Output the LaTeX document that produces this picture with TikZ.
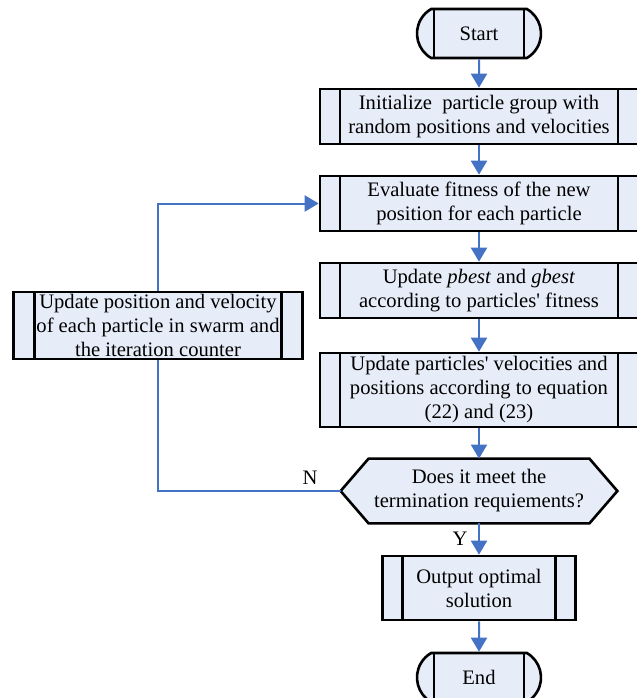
\documentclass[tikz,border=0pt]{standalone}
\usepackage{fontspec}
\setmainfont{Liberation Serif}
\usetikzlibrary{shapes.misc,arrows.meta}
\pgfdeclarelayer{bg}
\pgfsetlayers{bg,main}
\definecolor{boxfill}{RGB}{231,237,248}
\definecolor{flowblue}{RGB}{68,114,196}
\tikzset{
  procbox/.style={draw=black, line width=1.3pt, fill=boxfill, align=center, inner sep=0pt,
    path picture={\draw[line width=1.2pt]
      ([xshift=#1]path picture bounding box.north west) -- ([xshift=#1]path picture bounding box.south west)
      ([xshift=-#1]path picture bounding box.north east) -- ([xshift=-#1]path picture bounding box.south east);}},
  procbox/.default=10pt,
  termbox/.style={procbox=10.5pt, rounded rectangle, rounded rectangle arc length=120,
    minimum width=62pt, minimum height=24.5pt},
  mainbox/.style={procbox, minimum width=159pt, minimum height=#1},
  flow/.style={draw=flowblue, line width=1pt, -{Triangle[length=7pt,width=8pt]}},
}
\begin{document}
\begin{tikzpicture}[x=0.5pt, y=-0.5pt, font=\fontsize{10.3}{12}\selectfont]
    \useasboundingbox (0,0) rectangle (637,698);

    % main column
    \node[termbox] (start) at (479,33.5) {Start};
    \node[mainbox=27.5pt] (init) at (479,116.5) {Initialize\ \ particle group with\\random positions and velocities};
    \node[mainbox=27.5pt] (eval) at (479,203.5) {Evaluate fitness of the new\\position for each particle};
    \node[mainbox=27.5pt] (best) at (479,290.5) {Update \textit{pbest} and \textit{gbest}\\according to particles\textquotesingle\ fitness};
    \node[mainbox=37pt] (move) at (479,390) {Update particles\textquotesingle\ velocities and\\positions according to equation\\(22) and (23)};

    % decision
    \node[align=center, inner sep=0pt, minimum width=138pt, minimum height=32pt] (dec) at (479,491)
        {Does it meet the\\termination requiements?};
    \begin{pgfonlayer}{bg}
    \draw[line width=1.3pt, fill=boxfill] (dec.west) -- ([xshift=14pt]dec.north west)
        -- ([xshift=-14pt]dec.north east) -- (dec.east) -- ([xshift=-14pt]dec.south east)
        -- ([xshift=14pt]dec.south west) -- cycle;
    \end{pgfonlayer}

    \node[procbox, minimum width=96.5pt, minimum height=32pt] (out) at (479,588) {Output optimal\\solution};
    \node[termbox] (stop) at (479,677.5) {End};

    % loop back box
    \node[procbox=10.5pt, minimum width=144.5pt, minimum height=33.5pt] (upd) at (158,325.5)
        {Update position and velocity\\of each particle in swarm and\\the iteration counter};

    % connectors
    \draw[flow] (start) -- (init);
    \draw[flow] (init) -- (eval);
    \draw[flow] (eval) -- (best);
    \draw[flow] (best) -- (move);
    \draw[flow] (move) -- (dec);
    \draw[flow] (dec) -- (out);
    \draw[flow] (out) -- (stop);
    \begin{pgfonlayer}{bg}
    \draw[draw=flowblue, line width=1pt] (dec.west) -| (upd.south);
    \draw[flow] (upd.north) |- (eval.west);
    \end{pgfonlayer}

    % branch labels
    \node (nlab) at (310,478) {N};
    \node (ylab) at (460,539) {Y};
\end{tikzpicture}
\end{document}
